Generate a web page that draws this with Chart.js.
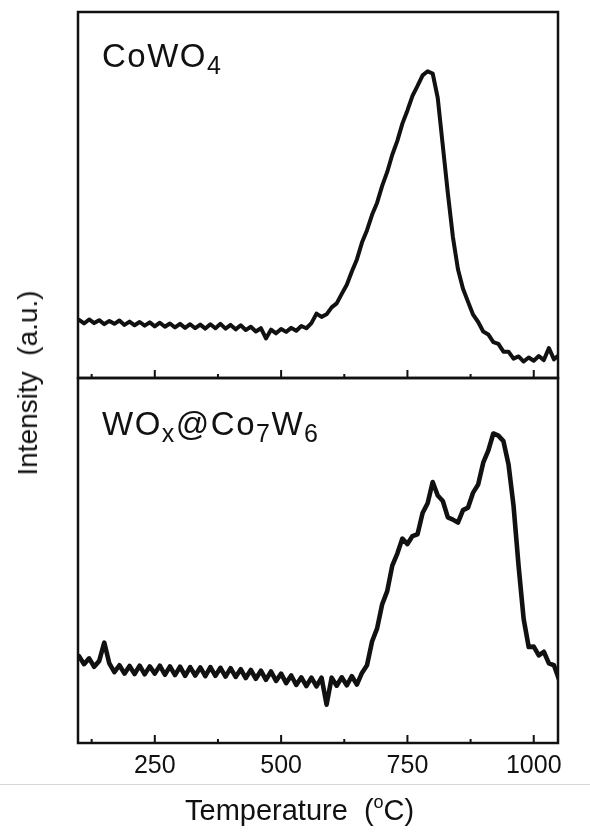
<!DOCTYPE html>
<html>
<head>
<meta charset="utf-8">
<script src="https://cdn.jsdelivr.net/npm/chart.js@4/dist/chart.umd.min.js"></script>
<style>
    body { margin: 0; background: #fff; }
    #wrap { position: relative; width: 590px; height: 832px; font-family: "Liberation Sans", Arial, sans-serif; color: #111; }
    #wrap canvas { position: absolute; left: 0; top: 0; }
    .lbl { position: absolute; white-space: nowrap; line-height: 1; }
    .panel { font-size: 33px; letter-spacing: 1.5px; left: 102px; }
    .sub { font-size: 25px; position: relative; top: 7px; }
    .sup { font-size: 18px; position: relative; top: -12px; }
    #xTitle { font-size: 29px; left: 185px; top: 796px; }
    #yTitle { font-size: 28px; left: 28px; top: 383px; transform: translate(-50%, -50%) rotate(-90deg); }
    #rule { position: absolute; left: 0; top: 784px; width: 590px; height: 1px; background: #d6d6d6; }
</style>
</head>
<body>
<div id="wrap">
    <canvas id="bottomChart" width="590" height="832"></canvas>
    <canvas id="topChart" width="590" height="832"></canvas>
    <div class="lbl panel" style="top:39px">CoWO<span class="sub">4</span></div>
    <div class="lbl panel" style="top:407px">WO<span class="sub">x</span>@Co<span class="sub">7</span>W<span class="sub">6</span></div>
    <div id="rule"></div>
    <div class="lbl" id="xTitle">Temperature&nbsp; (<span class="sup">o</span>C)</div>
    <div class="lbl" id="yTitle">Intensity&nbsp; (a.u.)</div>
</div>
<script>
// Температура, °C
const temps = [
    100, 110, 120, 130, 140, 150, 160, 170, 180, 190,
    200, 210, 220, 230, 240, 250, 260, 270, 280, 290,
    300, 310, 320, 330, 340, 350, 360, 370, 380, 390,
    400, 410, 420, 430, 440, 450, 460, 470, 480, 490,
    500, 510, 520, 530, 540, 550, 560, 570, 580, 590,
    600, 610, 620, 630, 640, 650, 660, 670, 680, 690,
    700, 710, 720, 730, 740, 750, 760, 770, 780, 790,
    800, 810, 820, 830, 840, 850, 860, 870, 880, 890,
    900, 910, 920, 930, 940, 950, 960, 970, 980, 990,
    1000, 1010, 1020, 1030, 1040, 1050
];

// CoWO4 (верхняя панель)
const cowo4 = [
    15.9, 14.9, 16.0, 15.0, 15.8, 14.7, 15.6, 14.8, 15.7, 14.5,
    15.4, 14.4, 15.3, 14.3, 15.2, 14.1, 15.1, 14.0, 14.9, 13.8,
    14.8, 13.7, 14.7, 13.6, 14.6, 13.5, 14.7, 13.6, 14.8, 13.5,
    14.5, 13.3, 14.4, 13.1, 14.0, 12.7, 13.6, 10.8, 13.2, 12.2,
    13.4, 12.6, 13.7, 12.9, 14.2, 13.6, 15.0, 17.6, 16.7, 17.4,
    19.3, 20.4, 23.0, 25.5, 29.1, 32.4, 37.0, 40.4, 44.6, 47.9,
    52.5, 56.3, 61.0, 64.8, 69.5, 73.1, 77.1, 79.8, 82.7, 83.8,
    83.2, 76.5, 63.5, 50.5, 38.5, 29.7, 24.4, 20.8, 17.3, 15.3,
    12.7, 11.9, 9.8, 9.3, 7.2, 7.2, 5.3, 5.9, 4.5, 5.6,
    4.7, 6.0, 4.9, 8.2, 5.1, 6.3
];

// WOx@Co7W6 (нижняя панель)
const woxCo7W6 = [
    23.8, 21.6, 23.2, 20.9, 22.5, 27.5, 21.8, 19.4, 21.3, 19.0,
    21.1, 18.9, 21.2, 18.8, 21.0, 19.0, 21.2, 18.7, 21.0, 18.6,
    20.9, 18.4, 20.8, 18.5, 20.7, 18.3, 20.8, 18.4, 20.6, 18.2,
    20.5, 18.1, 20.2, 17.8, 20.0, 17.6, 19.8, 17.3, 19.6, 17.0,
    19.0, 16.4, 18.5, 15.9, 18.0, 15.6, 17.9, 15.5, 17.9, 10.5,
    17.9, 15.7, 18.0, 15.8, 18.3, 16.0, 19.2, 21.3, 27.8, 31.4,
    38.0, 41.6, 48.6, 51.9, 56.0, 54.5, 56.7, 57.2, 63.0, 65.7,
    71.5, 67.8, 66.3, 61.8, 61.2, 60.4, 63.8, 64.5, 68.6, 70.8,
    76.8, 80.1, 84.8, 84.2, 82.7, 76.4, 65.0, 48.5, 34.0, 26.3,
    26.4, 24.0, 25.0, 21.8, 21.3, 17.4
];

const majorTicks = [250, 500, 750, 1000];
const minorTicks = [125, 375, 625, 875];

const xMin = 98;
const xMax = 1048;

// Рамка и внутренние засечки
const framePlugin = {
    id: 'frame',
    afterDatasetsDraw(chart) {
        const ctx = chart.ctx;
        const a = chart.chartArea;
        const x = chart.scales.x;
        ctx.save();
        ctx.strokeStyle = '#111';
        ctx.lineWidth = 2;
        ctx.beginPath();
        majorTicks.forEach(function(v) {
            const px = x.getPixelForValue(v);
            ctx.moveTo(px, a.bottom);
            ctx.lineTo(px, a.bottom - 8);
        });
        minorTicks.forEach(function(v) {
            const px = x.getPixelForValue(v);
            ctx.moveTo(px, a.bottom);
            ctx.lineTo(px, a.bottom - 4);
        });
        ctx.stroke();
        ctx.lineWidth = 2.5;
        ctx.strokeRect(a.left, a.top, a.right - a.left, a.bottom - a.top);
        ctx.restore();
    }
};

function makePoints(values) {
    return temps.map((t, i) => ({ x: t, y: values[i] }));
}

function panelChart(canvasId, values, padding, showTicks, lineWidth) {
    return new Chart(document.getElementById(canvasId), {
        type: 'line',
        data: {
            datasets: [{
                data: makePoints(values),
                borderColor: '#111',
                borderWidth: lineWidth,
                borderJoinStyle: 'round',
                borderCapStyle: 'round',
                pointRadius: 0,
                tension: 0,
                fill: false,
                clip: 0
            }]
        },
        options: {
            responsive: false,
            animation: false,
            events: [],
            layout: { padding: padding },
            plugins: {
                legend: { display: false },
                tooltip: { enabled: false }
            },
            scales: {
                x: {
                    type: 'linear',
                    min: xMin,
                    max: xMax,
                    display: showTicks,
                    grid: { display: false, drawTicks: false },
                    border: { display: false },
                    afterBuildTicks: function(scale) {
                        scale.ticks = majorTicks.map(v => ({ value: v }));
                    },
                    afterFit: function(scale) {
                        scale.height = showTicks ? 40 : 0;
                    },
                    ticks: {
                        padding: 8,
                        color: '#111',
                        font: { family: '"Liberation Sans", Arial, sans-serif', size: 25 },
                        maxRotation: 0,
                        callback: function(value) {
                            return String(value);
                        }
                    }
                },
                y: {
                    display: false,
                    min: 0,
                    max: 100
                }
            }
        },
        plugins: [framePlugin]
    });
}

panelChart('topChart', cowo4, { left: 78, right: 32, top: 12, bottom: 454 }, false, 4);
panelChart('bottomChart', woxCo7W6, { left: 78, right: 32, top: 378, bottom: 49 }, true, 4.6);
</script>
</body>
</html>
